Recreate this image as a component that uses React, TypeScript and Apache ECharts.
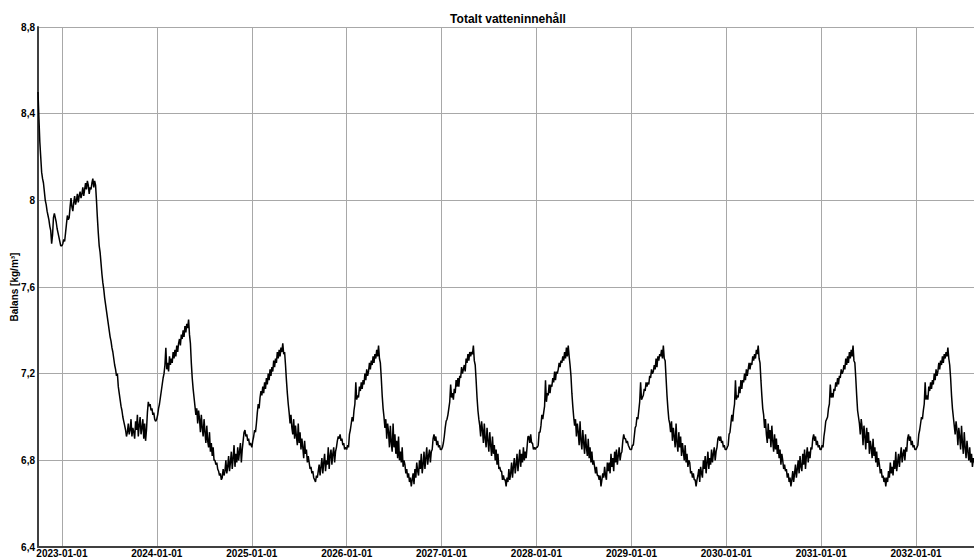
import React, { useEffect, useRef } from 'react';
import * as echarts from 'echarts';

const chartTitle = 'Totalt vatteninnehåll';
const yAxisName = 'Balans [kg/m³]';
const xStart = '2022-10-01';
const xEnd = '2032-08-11';
const yMin = 6.4;
const yMax = 8.8;
const yStep = 0.4;
const sampleDays = 3.5;

// half-weekly samples; each segment starts at its own date
const v2022 = [
  8.50, 8.38, 8.27, 8.20, 8.13, 8.10, 8.08, 8.04,
  8.00, 7.98, 7.95, 7.93, 7.91, 7.88, 7.86, 7.80,
  7.84, 7.92, 7.94, 7.92, 7.90, 7.87, 7.85, 7.83,
  7.81, 7.79,
];
const v2023 = [
  7.79, 7.80, 7.82, 7.81, 7.85, 7.89, 7.93, 7.91,
  7.92, 7.97, 8.01, 7.97, 7.95, 7.99, 8.02, 7.98,
  8.00, 8.03, 7.99, 8.02, 8.04, 8.01, 8.03, 8.06,
  8.02, 8.05, 8.08, 8.05, 8.09, 8.07, 8.03, 8.06,
  8.05, 8.08, 8.10, 8.06, 8.09, 8.07, 8.00, 7.92,
  7.85, 7.79, 7.76, 7.71, 7.66, 7.62, 7.59, 7.55,
  7.52, 7.49, 7.46, 7.43, 7.40, 7.37, 7.35, 7.32,
  7.30, 7.27, 7.24, 7.22, 7.19, 7.20, 7.14, 7.11,
  7.08, 7.05, 7.03, 7.00, 6.98, 6.96, 6.94, 6.91,
  6.93, 6.97, 6.92, 6.94, 6.99, 6.91, 6.95, 6.93,
  6.90, 6.98, 6.94, 7.01, 6.91, 6.96, 7.00, 6.92,
  6.95, 6.99, 6.90, 6.97, 6.89, 6.94, 7.02, 7.07,
  7.05, 7.06, 7.03, 7.04, 7.01, 7.02, 6.99, 6.98,
];
const v2024 = [
  6.99, 7.01, 7.04, 7.06, 7.09, 7.12, 7.15, 7.18,
  7.20, 7.24, 7.32, 7.22, 7.25, 7.21, 7.28, 7.24,
  7.27, 7.25, 7.30, 7.27, 7.31, 7.28, 7.33, 7.30,
  7.34, 7.36, 7.33, 7.38, 7.36, 7.40, 7.37, 7.42,
  7.39, 7.43, 7.41, 7.45, 7.38, 7.34, 7.25, 7.18,
  7.13, 7.09, 7.05, 7.01, 7.04, 6.97, 7.03, 6.99,
  6.93, 7.01, 6.95, 6.91, 6.99, 6.93, 6.88, 6.96,
  6.89, 6.86, 6.93, 6.84, 6.88, 6.82, 6.86, 6.80,
  6.80, 6.78, 6.79, 6.76, 6.75, 6.73, 6.74, 6.71,
  6.72, 6.76, 6.73, 6.75, 6.80, 6.74, 6.77, 6.82,
  6.75, 6.79, 6.84, 6.76, 6.81, 6.87, 6.77, 6.83,
  6.79, 6.86, 6.80, 6.84, 6.88, 6.79, 6.85, 6.89,
  6.93, 6.94, 6.91, 6.92, 6.89, 6.90, 6.87, 6.88,
];
const v2025 = [
  6.86, 6.89, 6.91, 6.94, 6.93, 6.97, 7.02, 7.06,
  7.04, 7.09, 7.12, 7.10, 7.14, 7.11, 7.16, 7.13,
  7.18, 7.15, 7.20, 7.17, 7.22, 7.19, 7.23, 7.21,
  7.26, 7.23, 7.27, 7.25, 7.30, 7.27, 7.31, 7.28,
  7.32, 7.30, 7.34, 7.29, 7.30, 7.24, 7.17, 7.11,
  7.06, 7.02, 6.97, 7.01, 6.95, 6.92, 6.99, 6.90,
  6.96, 6.91, 6.87, 6.97, 6.88, 6.93, 6.85, 6.90,
  6.86, 6.81, 6.89, 6.83, 6.85, 6.79, 6.82, 6.79,
  6.76, 6.77, 6.74, 6.75, 6.72, 6.71, 6.70, 6.73,
  6.72, 6.75, 6.78, 6.73, 6.77, 6.81, 6.74, 6.79,
  6.83, 6.75, 6.80, 6.78, 6.86, 6.76, 6.82, 6.85,
  6.78, 6.83, 6.86, 6.79, 6.84, 6.86, 6.89, 6.91,
  6.90, 6.92, 6.89, 6.90, 6.87, 6.88, 6.85, 6.86,
];
const v2026 = [
  6.85, 6.87, 6.86, 6.92, 6.94, 6.97, 7.00, 6.98,
  7.03, 7.06, 7.16, 7.08, 7.10, 7.09, 7.14, 7.12,
  7.16, 7.13, 7.17, 7.15, 7.20, 7.17, 7.22, 7.19,
  7.21, 7.25, 7.22, 7.26, 7.24, 7.28, 7.25, 7.29,
  7.27, 7.31, 7.28, 7.33, 7.27, 7.25, 7.18, 7.10,
  7.04, 7.00, 6.95, 6.99, 6.90, 6.97, 6.93, 6.86,
  6.96, 6.88, 6.84, 6.97, 6.86, 6.92, 6.83, 6.89,
  6.81, 6.91, 6.80, 6.84, 6.79, 6.86, 6.77, 6.80,
  6.78, 6.74, 6.76, 6.72, 6.74, 6.70, 6.72, 6.68,
  6.71, 6.74, 6.69, 6.76, 6.72, 6.79, 6.75, 6.73,
  6.80, 6.76, 6.83, 6.74, 6.78, 6.84, 6.76, 6.81,
  6.86, 6.78, 6.82, 6.85, 6.79, 6.84, 6.85, 6.90,
  6.92, 6.89, 6.91, 6.87, 6.89, 6.86, 6.87, 6.85,
];
const v2027 = [
  6.85, 6.86, 6.88, 6.91, 6.95, 6.98, 6.99, 7.01,
  7.04, 7.07, 7.15, 7.09, 7.11, 7.08, 7.13, 7.11,
  7.17, 7.14, 7.18, 7.14, 7.19, 7.18, 7.23, 7.20,
  7.22, 7.24, 7.21, 7.27, 7.25, 7.29, 7.26, 7.30,
  7.28, 7.30, 7.29, 7.33, 7.26, 7.24, 7.17, 7.09,
  7.03, 6.99, 6.96, 6.91, 6.98, 6.94, 6.88, 6.97,
  6.90, 6.86, 6.95, 6.89, 6.84, 6.93, 6.87, 6.82,
  6.91, 6.83, 6.87, 6.80, 6.85, 6.78, 6.83, 6.76,
  6.77, 6.75, 6.75, 6.71, 6.73, 6.71, 6.71, 6.68,
  6.72, 6.70, 6.76, 6.71, 6.74, 6.79, 6.72, 6.77,
  6.81, 6.74, 6.78, 6.83, 6.75, 6.80, 6.85, 6.77,
  6.83, 6.79, 6.86, 6.80, 6.84, 6.81, 6.86, 6.91,
  6.91, 6.88, 6.92, 6.88, 6.88, 6.85, 6.86, 6.85,
];
const v2028 = [
  6.86, 6.86, 6.87, 6.93, 6.93, 6.96, 7.01, 6.99,
  7.02, 7.05, 7.17, 7.07, 7.11, 7.10, 7.15, 7.11,
  7.15, 7.14, 7.18, 7.16, 7.21, 7.17, 7.21, 7.20,
  7.22, 7.25, 7.23, 7.26, 7.25, 7.28, 7.26, 7.30,
  7.27, 7.32, 7.28, 7.33, 7.28, 7.24, 7.19, 7.11,
  7.05, 7.00, 6.96, 6.99, 6.91, 6.97, 6.93, 6.87,
  6.98, 6.89, 6.85, 6.94, 6.88, 6.83, 6.92, 6.86,
  6.82, 6.90, 6.81, 6.86, 6.79, 6.84, 6.78, 6.80,
  6.77, 6.74, 6.77, 6.73, 6.73, 6.71, 6.73, 6.68,
  6.71, 6.74, 6.72, 6.77, 6.73, 6.71, 6.79, 6.75,
  6.79, 6.74, 6.83, 6.77, 6.81, 6.75, 6.84, 6.79,
  6.85, 6.78, 6.82, 6.86, 6.80, 6.83, 6.84, 6.89,
  6.92, 6.90, 6.90, 6.88, 6.89, 6.87, 6.86, 6.85,
];
const v2029 = [
  6.85, 6.87, 6.87, 6.91, 6.95, 6.96, 7.00, 6.99,
  7.03, 7.07, 7.16, 7.08, 7.09, 7.10, 7.13, 7.12,
  7.16, 7.14, 7.16, 7.15, 7.19, 7.18, 7.22, 7.20,
  7.21, 7.24, 7.22, 7.27, 7.23, 7.28, 7.26, 7.29,
  7.28, 7.31, 7.27, 7.33, 7.27, 7.26, 7.18, 7.10,
  7.04, 6.99, 6.97, 6.93, 6.98, 6.89, 6.95, 6.91,
  6.86, 6.97, 6.88, 6.84, 6.93, 6.86, 6.91, 6.82,
  6.88, 6.84, 6.80, 6.87, 6.79, 6.83, 6.77, 6.80,
  6.79, 6.74, 6.75, 6.72, 6.74, 6.71, 6.71, 6.68,
  6.71, 6.73, 6.76, 6.70, 6.77, 6.74, 6.72, 6.80,
  6.76, 6.82, 6.74, 6.79, 6.84, 6.76, 6.81, 6.78,
  6.85, 6.79, 6.83, 6.86, 6.80, 6.84, 6.86, 6.90,
  6.91, 6.89, 6.91, 6.88, 6.89, 6.86, 6.87, 6.85,
];
const v2030 = [
  6.85, 6.86, 6.87, 6.92, 6.93, 6.97, 7.01, 6.98,
  7.03, 7.06, 7.17, 7.08, 7.10, 7.09, 7.14, 7.11,
  7.17, 7.13, 7.17, 7.16, 7.20, 7.17, 7.22, 7.19,
  7.22, 7.25, 7.22, 7.25, 7.24, 7.28, 7.26, 7.29,
  7.27, 7.31, 7.29, 7.33, 7.27, 7.25, 7.17, 7.10,
  7.04, 7.01, 6.95, 6.99, 6.92, 6.88, 6.97, 6.90,
  6.94, 6.86, 6.96, 6.89, 6.84, 6.92, 6.85, 6.90,
  6.83, 6.87, 6.81, 6.85, 6.78, 6.83, 6.80, 6.76,
  6.78, 6.75, 6.76, 6.72, 6.74, 6.70, 6.72, 6.68,
  6.71, 6.75, 6.70, 6.74, 6.78, 6.72, 6.76, 6.80,
  6.74, 6.82, 6.77, 6.75, 6.83, 6.78, 6.85, 6.76,
  6.82, 6.86, 6.79, 6.84, 6.81, 6.86, 6.85, 6.90,
  6.92, 6.89, 6.91, 6.87, 6.89, 6.86, 6.87, 6.85,
];
const v2031 = [
  6.85, 6.87, 6.86, 6.91, 6.94, 6.98, 6.99, 7.00,
  7.04, 7.06, 7.15, 7.09, 7.11, 7.09, 7.13, 7.12,
  7.16, 7.14, 7.18, 7.15, 7.19, 7.18, 7.22, 7.20,
  7.21, 7.24, 7.22, 7.27, 7.24, 7.28, 7.25, 7.30,
  7.27, 7.31, 7.28, 7.33, 7.26, 7.25, 7.18, 7.10,
  7.03, 7.00, 6.97, 6.92, 6.99, 6.95, 6.87, 6.96,
  6.91, 6.85, 6.95, 6.88, 6.93, 6.83, 6.89, 6.86,
  6.81, 6.90, 6.82, 6.86, 6.79, 6.84, 6.77, 6.81,
  6.78, 6.74, 6.76, 6.72, 6.73, 6.70, 6.72, 6.68,
  6.72, 6.70, 6.75, 6.72, 6.79, 6.74, 6.77, 6.73,
  6.80, 6.76, 6.84, 6.75, 6.79, 6.83, 6.77, 6.82,
  6.86, 6.79, 6.83, 6.85, 6.80, 6.86, 6.84, 6.90,
  6.92, 6.89, 6.91, 6.87, 6.89, 6.86, 6.87, 6.85,
];
const v2032 = [
  6.85, 6.86, 6.87, 6.92, 6.94, 6.97, 7.00, 6.99,
  7.03, 7.06, 7.16, 7.08, 7.10, 7.08, 7.14, 7.12,
  7.16, 7.13, 7.17, 7.15, 7.20, 7.17, 7.22, 7.19,
  7.21, 7.25, 7.22, 7.26, 7.24, 7.28, 7.25, 7.29,
  7.27, 7.30, 7.28, 7.32, 7.27, 7.24, 7.18, 7.10,
  7.04, 7.00, 6.96, 6.92, 6.98, 6.94, 6.87, 6.95,
  6.91, 6.85, 6.96, 6.88, 6.83, 6.93, 6.86, 6.81,
  6.89, 6.84, 6.80, 6.86, 6.79, 6.83, 6.77, 6.81,
  6.79,
];

const segmentStarts = ['2022-10-01', '2023-01-01', '2024-01-01', '2025-01-01', '2026-01-01', '2027-01-01', '2028-01-01', '2029-01-01', '2030-01-01', '2031-01-01', '2032-01-01'];
const segmentValues = [v2022, v2023, v2024, v2025, v2026, v2027, v2028, v2029, v2030, v2031, v2032];

const DAY = 86400000;

function parseLocal(s: string): number {
  const [y, m, d] = s.split('-').map(Number);
  return new Date(y, m - 1, d).getTime();
}

function buildData(): [number, number][] {
  const out: [number, number][] = [];
  segmentStarts.forEach((s, k) => {
    const t0 = parseLocal(s);
    const next = k + 1 < segmentStarts.length ? parseLocal(segmentStarts[k + 1]) : Infinity;
    segmentValues[k].forEach((v, i) => {
      const t = t0 + i * sampleDays * DAY;
      if (t < next) out.push([t, v]);
    });
  });
  return out;
}

const pad = (n: number) => (n < 10 ? '0' + n : '' + n);

export default function App() {
  const ref = useRef<HTMLDivElement>(null);
  useEffect(() => {
    if (!ref.current) return;
    const chart = echarts.init(ref.current, undefined, { renderer: 'svg' });
    const font = 'Liberation Sans, Arial, sans-serif';
    chart.setOption({
      animation: false,
      backgroundColor: '#ffffff',
      title: {
        text: chartTitle,
        left: 503,
        textAlign: 'center',
        top: 8,
        textStyle: { fontSize: 12, fontWeight: 'bold', color: '#000', fontFamily: font },
      },
      grid: { left: 38, right: 0, top: 27, bottom: 11, containLabel: false },
      xAxis: {
        type: 'time',
        min: parseLocal(xStart),
        max: parseLocal(xEnd),
        minInterval: 365 * DAY,
        maxInterval: 366 * DAY,
        axisLine: { show: true, lineStyle: { color: '#404040', width: 2 } },
        axisTick: { show: false },
        splitLine: { show: true, lineStyle: { color: '#a8a8a8', width: 1 } },
        axisLabel: {
          margin: 1,
          fontSize: 10,
          fontWeight: 'bold',
          color: '#000',
          fontFamily: font,
          hideOverlap: false,
          formatter: (val: number) => {
            const d = new Date(val);
            if (d.getMonth() !== 0 || d.getDate() !== 1) return '';
            return d.getFullYear() + '-' + pad(d.getMonth() + 1) + '-' + pad(d.getDate());
          },
        },
      },
      yAxis: {
        type: 'value',
        min: yMin,
        max: yMax,
        interval: yStep,
        name: yAxisName,
        nameLocation: 'middle',
        nameGap: 19,
        nameMoveOverlap: false,
        nameTextStyle: { fontSize: 10, fontWeight: 'bold', color: '#000', fontFamily: font },
        axisLine: { show: true, lineStyle: { color: '#404040', width: 2 } },
        axisTick: { show: false },
        splitLine: { show: true, lineStyle: { color: '#a8a8a8', width: 1 } },
        axisLabel: {
          margin: 3,
          fontSize: 10,
          fontWeight: 'bold',
          color: '#000',
          fontFamily: font,
          formatter: (v: number) => String(Number(v.toFixed(1))).replace('.', ','),
        },
      },
      series: [
        {
          type: 'line',
          data: buildData(),
          showSymbol: false,
          symbol: 'none',
          clip: true,
          lineStyle: { color: '#000', width: 1.5 },
        },
      ],
    });
    return () => chart.dispose();
  }, []);
  return (
    <div
      ref={ref}
      style={{ position: 'absolute', left: 0, top: 0, width: 974, height: 558 }}
    />
  );
}
